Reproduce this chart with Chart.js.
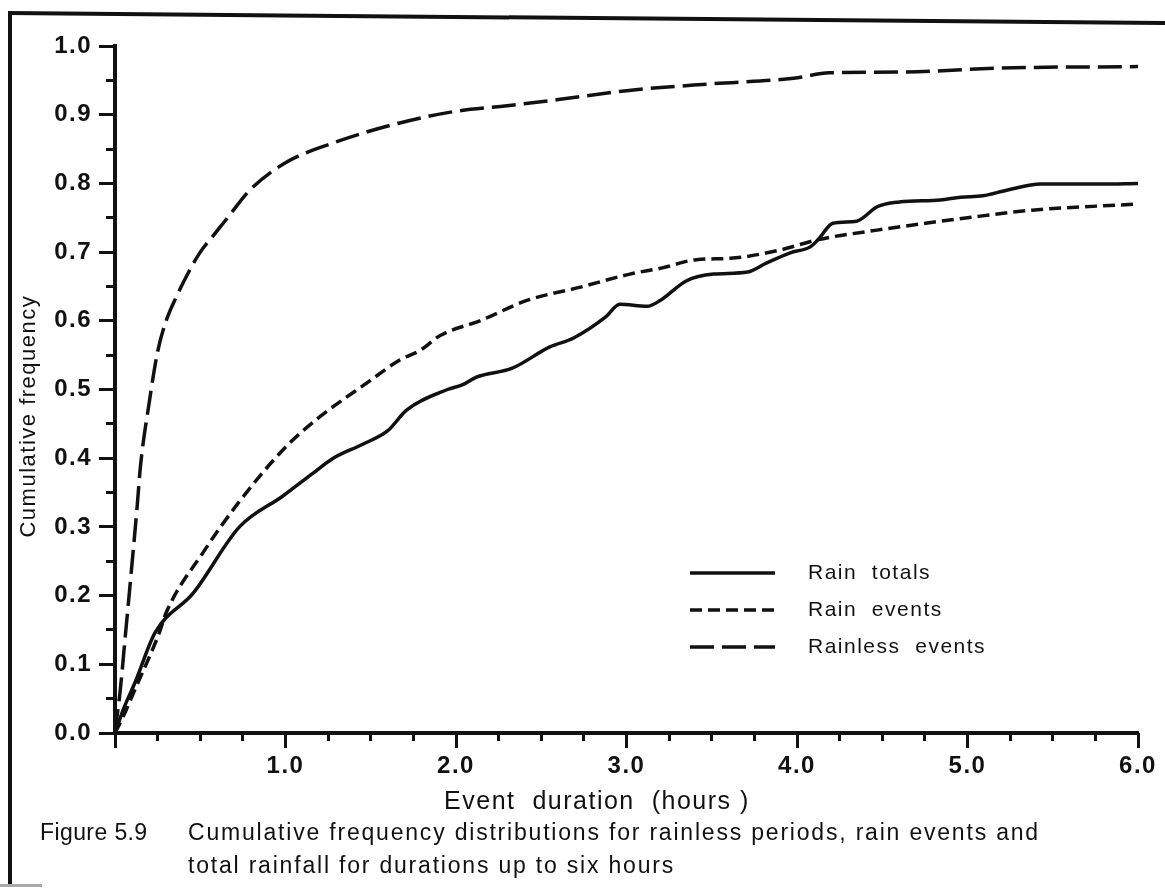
<!DOCTYPE html>
<html>
<head>
<meta charset="utf-8">
<script src="https://cdn.jsdelivr.net/npm/chart.js@4.4.1/dist/chart.umd.min.js"></script>
<style>
  body { margin: 0; background: #fff; width: 1165px; height: 890px; overflow: hidden; position: relative;
         font-family: "Liberation Sans", Arial, sans-serif; color: #111; }
  #frameLeft { position: absolute; left: 8px; top: 11px; width: 4px; height: 876px; background: #111; }
  #frameTop { position: absolute; left: 8px; top: 11px; width: 1170px; height: 4px; background: #111;
              transform-origin: 0 0; transform: rotate(0.5deg); }
  #scrap { position: absolute; left: 0; top: 884px; width: 42px; height: 3px; background: #aaa; }
  #chart { position: absolute; left: 0; top: 0; }
  .caption { position: absolute; top: 816px; font-size: 23px; line-height: 33px; }
</style>
</head>
<body>
<div id="frameLeft"></div>
<div id="frameTop"></div>
<div id="scrap"></div>
<canvas id="chart" width="1165" height="820"></canvas>
<div class="caption" style="left:40px; letter-spacing:0.4px">Figure 5.9</div>
<div class="caption" style="left:188px; letter-spacing:1.8px">Cumulative frequency distributions for rainless periods, rain events and<br>total rainfall for durations up to six hours</div>
<script>
// durations in hours
const rainTotalsX = [0, 0.05, 0.12, 0.235, 0.46, 0.73, 0.985, 1.16, 1.28, 1.45, 1.60, 1.71, 1.95, 2.04, 2.12, 2.33, 2.55, 2.69, 2.88, 2.96, 3.12, 3.2, 3.35, 3.51, 3.71, 3.82, 3.96, 4.08, 4.13, 4.21, 4.35, 4.47, 4.60, 4.84, 4.96, 5.09, 5.23, 5.43, 5.78, 6.0];
const rainTotalsY = [0, 0.035, 0.075, 0.146, 0.204, 0.30, 0.345, 0.378, 0.40, 0.42, 0.44, 0.47, 0.50, 0.507, 0.518, 0.531, 0.562, 0.575, 0.606, 0.624, 0.621, 0.630, 0.658, 0.668, 0.671, 0.684, 0.699, 0.708, 0.72, 0.742, 0.745, 0.766, 0.773, 0.776, 0.780, 0.782, 0.79, 0.799, 0.799, 0.80];

const rainEventsX = [0, 0.05, 0.12, 0.26, 0.30, 0.52, 0.73, 1.0, 1.2, 1.48, 1.67, 1.79, 1.91, 2.14, 2.42, 2.73, 3.02, 3.21, 3.41, 3.61, 3.9, 4.12, 4.47, 5.0, 5.38, 6.0];
const rainEventsY = [0, 0.025, 0.065, 0.146, 0.175, 0.264, 0.337, 0.416, 0.46, 0.51, 0.543, 0.557, 0.579, 0.60, 0.63, 0.649, 0.668, 0.677, 0.689, 0.691, 0.703, 0.718, 0.732, 0.75, 0.761, 0.770];

const rainlessX = [0, 0.015, 0.03, 0.06, 0.09, 0.13, 0.15, 0.20, 0.25, 0.30, 0.36, 0.43, 0.50, 0.58, 0.66, 0.79, 1.0, 1.28, 1.67, 2.0, 2.3, 2.6, 3.0, 3.5, 3.98, 4.19, 4.6, 5.2, 6.0];
const rainlessY = [0, 0.03, 0.06, 0.14, 0.22, 0.33, 0.39, 0.48, 0.555, 0.60, 0.635, 0.67, 0.70, 0.725, 0.75, 0.79, 0.83, 0.859, 0.888, 0.905, 0.913, 0.922, 0.935, 0.945, 0.953, 0.961, 0.962, 0.968, 0.97];

const seriesLabels = ['Rain  totals', 'Rain  events', 'Rainless  events'];

const ink = '#111';

const toPoints = (xs, ys) => xs.map((x, i) => ({ x: x, y: ys[i] }));

// the scanned lettering is loosely spaced
const scaleTextSpacing = {
	id: 'scaleTextSpacing',
	beforeDraw(chart) { chart.ctx.letterSpacing = '1.5px'; },
	beforeDatasetsDraw(chart) { chart.ctx.letterSpacing = '0px'; },
};

// legend drawn inside the plot, lower right
const plotLegend = {
	id: 'plotLegend',
	afterDatasetsDraw(chart, args, opts) {
		const ctx = chart.ctx;
		ctx.save();
		chart.data.datasets.forEach((ds, i) => {
			const y = opts.top + i * opts.rowGap;
			ctx.strokeStyle = ds.borderColor;
			ctx.lineWidth = ds.borderWidth;
			ctx.setLineDash(ds.borderDash || []);
			ctx.beginPath();
			ctx.moveTo(opts.left, y);
			ctx.lineTo(opts.left + opts.lineLength, y);
			ctx.stroke();
			ctx.setLineDash([]);
			ctx.fillStyle = ink;
			ctx.font = opts.font;
			ctx.letterSpacing = '1.5px';
			ctx.textBaseline = 'middle';
			ctx.fillText(ds.label, opts.left + opts.lineLength + opts.textGap, y);
		});
		ctx.restore();
	}
};

const fontFamily = '"Liberation Sans", Arial, sans-serif';
const tickFont = { family: fontFamily, size: 24, weight: 'bold' };

new Chart(document.getElementById('chart'), {
	type: 'line',
	data: {
		datasets: [
			{
				label: seriesLabels[0],
				data: toPoints(rainTotalsX, rainTotalsY),
				borderColor: ink,
				borderWidth: 3.5,
				borderDash: [],
			},
			{
				label: seriesLabels[1],
				data: toPoints(rainEventsX, rainEventsY),
				borderColor: ink,
				borderWidth: 3.5,
				borderDash: [12, 6],
			},
			{
				label: seriesLabels[2],
				data: toPoints(rainlessX, rainlessY),
				borderColor: ink,
				borderWidth: 3.5,
				borderDash: [24, 8],
			},
		],
	},
	options: {
		responsive: false,
		animation: false,
		events: [],
		layout: { padding: { left: 0, top: 46, right: 27, bottom: 0 } },
		elements: {
			point: { radius: 0 },
			line: { cubicInterpolationMode: 'monotone', borderCapStyle: 'butt' },
		},
		plugins: {
			legend: { display: false },
			tooltip: { enabled: false },
			plotLegend: { left: 690, top: 573, rowGap: 37, lineLength: 85, textGap: 33, font: '21px "Liberation Sans", Arial, sans-serif' },
		},
		scales: {
			x: {
				type: 'linear',
				position: 'bottom',
				min: 0,
				max: 6,
				afterFit: (scale) => { scale.height = 87; },
				ticks: {
					stepSize: 1,
					color: ink,
					font: tickFont,
					padding: 4,
					maxRotation: 0,
					callback: (v) => (v === 0 ? '' : v.toFixed(1)),
				},
				grid: { drawOnChartArea: false, tickLength: 15, tickWidth: 3, tickColor: ink },
				border: { display: true, width: 4, color: ink },
				title: { display: true, text: 'Event  duration  (hours )       ', color: ink, font: { family: fontFamily, size: 25 }, padding: { top: 0, bottom: 3 } },
			},
			y: {
				type: 'linear',
				position: 'left',
				min: 0,
				max: 1,
				afterFit: (scale) => { scale.width = 115; },
				ticks: {
					stepSize: 0.1,
					color: ink,
					font: tickFont,
					padding: 7,
					callback: (v) => v.toFixed(1),
				},
				grid: { drawOnChartArea: false, tickLength: 16, tickWidth: 3, tickColor: ink },
				border: { display: true, width: 4, color: ink },
				title: { display: true, text: 'Cumulative frequency       ', color: ink, font: { family: fontFamily, size: 22 }, padding: { top: 16, bottom: 0 } },
			},
			// minor tick marks
			x2: {
				type: 'linear',
				position: { y: 0 },
				min: 0,
				max: 6,
				ticks: { stepSize: 0.25, display: false },
				grid: { drawOnChartArea: false, tickLength: 8, tickWidth: 3, tickColor: ink },
				border: { display: false },
			},
			y2: {
				type: 'linear',
				position: { x: 0 },
				min: 0,
				max: 1,
				ticks: { stepSize: 0.05, display: false },
				grid: { drawOnChartArea: false, tickLength: 9, tickWidth: 3, tickColor: ink },
				border: { display: false },
			},
		},
	},
	plugins: [scaleTextSpacing, plotLegend],
});
</script>
</body>
</html>
